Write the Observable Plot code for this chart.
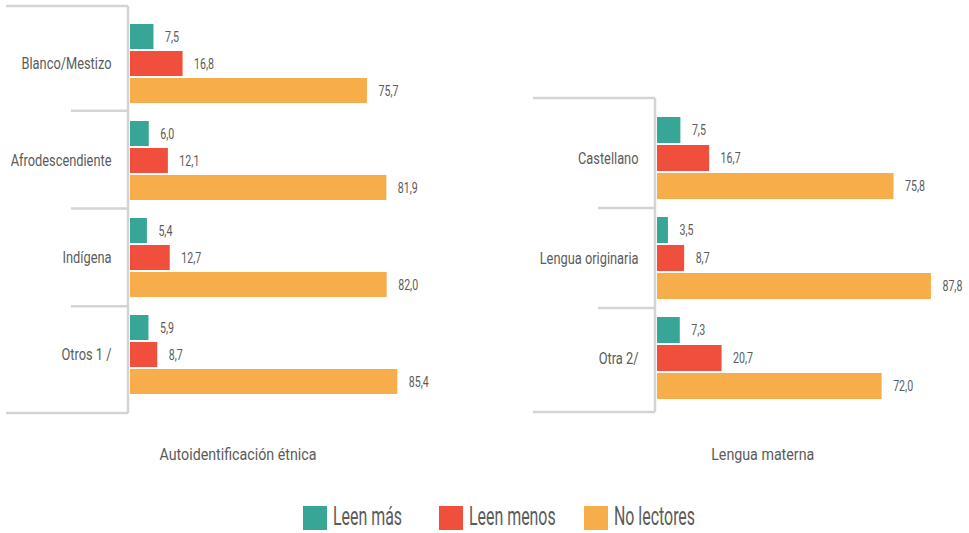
<!DOCTYPE html>
<html>
<head>
<meta charset="utf-8">
<script src="https://cdn.jsdelivr.net/npm/d3@7"></script>
<script src="https://cdn.jsdelivr.net/npm/@observablehq/plot@0.6"></script>
<style>
  html, body { margin: 0; padding: 0; background: #fff; }
  #root { position: relative; width: 969px; height: 533px; overflow: hidden;
          font-family: Roboto, "Noto Sans", sans-serif; color: #5b5b5b; }
  .panel { position: absolute; top: 0; }
  .ptitle { position: absolute; top: 444px; font-size: 16.5px; line-height: 22px; white-space: nowrap;
            transform-origin: 50% 50%; }
  #legend { position: absolute; top: 506px; left: 303px; display: flex; align-items: center; font-size: 25px; }
  #legend .item { display: flex; align-items: center; }
  #legend .sw { width: 24px; height: 24px; margin-right: 6px; flex: none; }
  #legend .lab { display: inline-block; white-space: nowrap; overflow: visible; line-height: 24px; }
  #legend .lab span { display: inline-block; transform-origin: 0 50%; position: relative; top: -1px; }
</style>
</head>
<body>
<div id="root"></div>
<script>
// ---- data ----
const series = ["Leen más", "Leen menos", "No lectores"];
const seriesColors = ["#37a696", "#ef4f3c", "#f8ad4b"];

const etnCategories = ["Blanco/Mestizo", "Afrodescendiente", "Indígena", "Otros 1 /"];
const etnLeenMas = [7.5, 6.0, 5.4, 5.9];
const etnLeenMenos = [16.8, 12.1, 12.7, 8.7];
const etnNoLectores = [75.7, 81.9, 82.0, 85.4];

const lenCategories = ["Castellano", "Lengua originaria", "Otra 2/"];
const lenLeenMas = [7.5, 3.5, 7.3];
const lenLeenMenos = [16.7, 8.7, 20.7];
const lenNoLectores = [75.8, 87.8, 72.0];

const panelTitles = ["Autoidentificación étnica", "Lengua materna"];

// ---- helpers ----
const fmt = v => d3.format(".1f")(v).replace(".", ",");
const textColor = "#5b5b5b";
const lineColor = "#d4d4d4";

function toRows(categories, valueArrays) {
  const rows = [];
  categories.forEach((c, i) => {
    series.forEach((s, j) => rows.push({cat: c, series: s, value: valueArrays[j][i]}));
  });
  return rows;
}

function panel({categories, values, width, height, marginTop, marginBottom, topExt, botExt}) {
  const rows = toRows(categories, values);
  const plot = Plot.plot({
    width, height,
    marginLeft: 130, marginRight: 0, marginTop, marginBottom,
    style: {fontFamily: "Roboto, 'Noto Sans', sans-serif", color: textColor, overflow: "visible", background: "transparent"},
    x: {domain: [0, 100], axis: null},
    y: {domain: series, axis: null, paddingInner: 0.07, paddingOuter: 0.28},
    fy: {domain: categories, paddingInner: 0, paddingOuter: 0, label: null},
    color: {domain: series, range: seriesColors},
    marks: [
      Plot.axisFy({anchor: "left", tickSize: 0, tickPadding: 19, label: null, fontSize: 16.5, fill: textColor}),
      Plot.barX(rows, {fy: "cat", y: "series", x: "value", fill: "series"}),
      Plot.text(rows, {fy: "cat", y: "series", x: "value", text: d => fmt(d.value),
        textAnchor: "start", dx: 11, fontSize: 14.5, fill: textColor})
    ]
  });
  // bracket-style category axis lines derived from the scales
  const fyS = plot.scale("fy");
  const band = d3.scaleBand().domain(fyS.domain).range(fyS.range)
    .paddingInner(fyS.paddingInner ?? 0).paddingOuter(fyS.paddingOuter ?? 0);
  const x0 = plot.scale("x").apply(0) - 2;
  const top = band.range()[0] - topExt;
  const bot = band.range()[1] + botExt;
  const g = d3.select(plot).append("g").attr("stroke", lineColor).attr("stroke-width", 2.5).attr("fill", "none");
  g.append("line").attr("x1", x0).attr("x2", x0).attr("y1", top).attr("y2", bot);
  g.append("line").attr("x1", x0 - 122).attr("x2", x0).attr("y1", top).attr("y2", top);
  g.append("line").attr("x1", x0 - 122).attr("x2", x0).attr("y1", bot).attr("y2", bot);
  categories.slice(1).forEach(c => {
    const y = band(c);
    g.append("line").attr("x1", x0 - 57).attr("x2", x0).attr("y1", y).attr("y2", y);
  });
  return plot;
}

const root = document.getElementById("root");

const left = panel({
  categories: etnCategories, values: [etnLeenMas, etnLeenMenos, etnNoLectores],
  width: 443, height: 420, marginTop: 13, marginBottom: 16, topExt: 7, botExt: 9
});
left.classList.add("panel");
left.style.left = "0px";
root.appendChild(left);

const right = panel({
  categories: lenCategories, values: [lenLeenMas, lenLeenMenos, lenNoLectores],
  width: 442, height: 420, marginTop: 108, marginBottom: 12, topExt: 10, botExt: 4
});
right.classList.add("panel");
right.style.left = "527px";
root.appendChild(right);

// ---- condensed look: squeeze text horizontally (the reference uses a condensed face) ----
const allTexts = [...left.querySelectorAll("text"), ...right.querySelectorAll("text")];
const isValue = t => /^\d/.test(t.textContent);
const valueTexts = allTexts.filter(isValue);
const catTexts = allTexts.filter(t => !isValue(t));
function squeeze(texts, exemplar, target) {
  const ex = texts.find(t => t.textContent === exemplar);
  const k = ex ? target / ex.getComputedTextLength() : 0.85;
  texts.forEach(t => {
    const w = t.getComputedTextLength();
    t.setAttribute("textLength", (w * k).toFixed(2));
    t.setAttribute("lengthAdjust", "spacingAndGlyphs");
  });
}
squeeze(catTexts, "Blanco/Mestizo", 90);
squeeze(valueTexts, "75,7", 20);

// panel titles
let kTitle = 1;
[[panelTitles[0], 238], [panelTitles[1], 763]].forEach(([t, cx], i) => {
  const d = document.createElement("div");
  d.className = "ptitle";
  d.textContent = t;
  root.appendChild(d);
  const w = d.getBoundingClientRect().width;
  if (i === 0) kTitle = 157 / w;
  d.style.left = (cx - w / 2) + "px";
  d.style.transform = `scaleX(${kTitle})`;
});

// legend
const legend = document.createElement("div");
legend.id = "legend";
root.appendChild(legend);
const legendGaps = [37, 28, 0];
const labs = [];
series.forEach((s, i) => {
  const it = document.createElement("div");
  it.className = "item";
  it.style.marginRight = legendGaps[i] + "px";
  const sw = document.createElement("div");
  sw.className = "sw";
  sw.style.background = seriesColors[i];
  const lab = document.createElement("span");
  lab.className = "lab";
  const inner = document.createElement("span");
  inner.textContent = s;
  lab.appendChild(inner);
  it.appendChild(sw); it.appendChild(lab);
  legend.appendChild(it);
  labs.push([lab, inner]);
});
const kLeg = 69 / labs[0][1].getBoundingClientRect().width;
labs.forEach(([lab, inner]) => {
  const w = inner.getBoundingClientRect().width;
  lab.style.width = (w * kLeg) + "px";
  inner.style.transform = `scaleX(${kLeg})`;
});
</script>
</body>
</html>
